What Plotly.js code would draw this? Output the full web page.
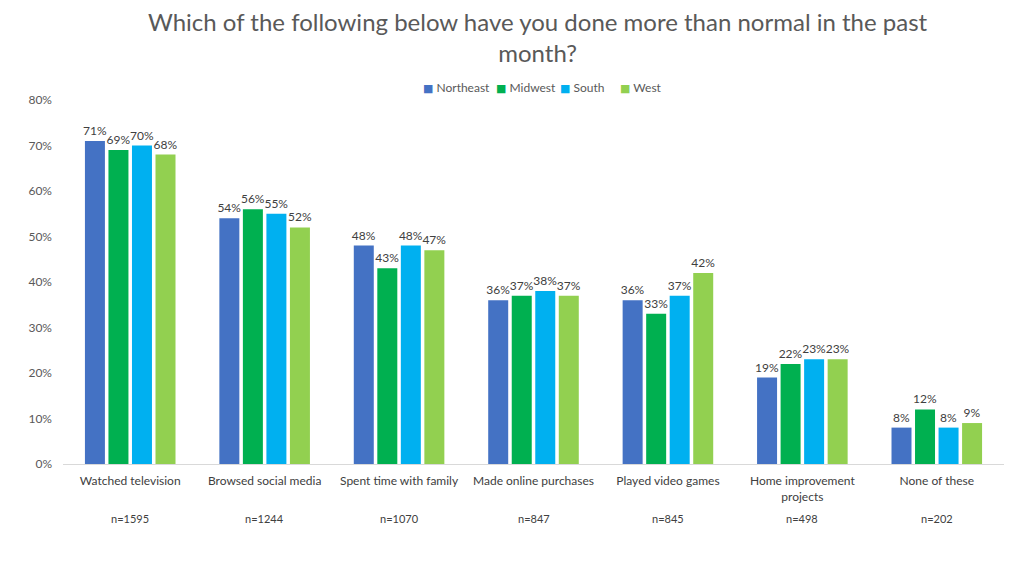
<!DOCTYPE html>
<html><head><meta charset="utf-8">
<script src="https://cdn.plot.ly/plotly-3.0.1.min.js"></script>
<style>html,body{margin:0;padding:0;background:#fff;}#chart{width:1024px;height:568px;}</style>
</head><body><div id="chart"></div>
<script>
const categories = ["Watched television","Browsed social media","Spent time with family","Made online purchases","Played video games","Home improvement<br>projects","None of these"];
const sampleSizes = ["n=1595","n=1244","n=1070","n=847","n=845","n=498","n=202"];
const northeast = [71,54,48,36,36,19,8];
const midwest = [69,56,43,37,33,22,12];
const south = [70,55,48,38,37,23,8];
const west = [68,52,47,37,42,23,9];
const seriesNames = ["Northeast","Midwest","South","West"];
const seriesColors = ["#4472C4","#00B050","#00B0F0","#92D050"];
const seriesValues = [northeast, midwest, south, west];

const font = "Lato, 'Open Sans', sans-serif";
const traces = seriesValues.map((vals,i)=>({
  type:'bar', name:seriesNames[i], x:categories, y:vals.map(v=>v/100),
  marker:{color:seriesColors[i]},
  text:vals.map(v=>v+'%'), textposition:'outside', cliponaxis:false,
  textfont:{size:12,color:'#404040',family:font},
  hoverinfo:'none'
}));
const annotations = categories.map((c,i)=>({
  x:c, xref:'x', y:0, yref:'paper', yanchor:'middle', yshift:-54, text:sampleSizes[i], showarrow:false,
  font:{size:11,color:'#404040',family:font}
}));
// legend drawn as annotations (compact, like the reference)
const legendX = [0.3804, 0.458, 0.526, 0.590];
seriesNames.forEach((n,i)=>{
  annotations.push({
    x:legendX[i], xref:'paper', xanchor:'left', y:1.0357, yref:'paper', yanchor:'middle',
    showarrow:false,
    text:'<span style="color:'+seriesColors[i]+';font-family:DejaVu Sans;font-size:11px">■</span> '+n,
    font:{size:12,color:'#595959',family:font}
  });
});
const layout = {
  width:1024, height:568,
  margin:{l:63,r:20,t:100,b:104},
  paper_bgcolor:'#fff', plot_bgcolor:'#fff',
  title:{text:'Which of the following below have you done more than normal in the past<br>month?', x:0.525, xanchor:'center', yref:'container', y:0.945, yanchor:'middle', font:{size:24,color:'#595959',family:font}},
  barmode:'group', bargap:0.3, bargroupgap:0.15,
  uniformtext:{mode:'show', minsize:12},
  showlegend:false,
  xaxis:{showgrid:false, showline:true, linecolor:'#D9D9D9', linewidth:1, ticks:'', ticklabelstandoff:6, tickfont:{size:12,color:'#404040',family:font}, fixedrange:true},
  yaxis:{range:[0,0.8], dtick:0.1, tickformat:'.0%', showgrid:false, zeroline:false, showline:false, ticks:'', ticklabelstandoff:10, tickfont:{size:12,color:'#595959',family:font}, fixedrange:true},
  annotations:annotations
};
Plotly.newPlot('chart', traces, layout, {displayModeBar:false, staticPlot:true});
</script></body></html>
